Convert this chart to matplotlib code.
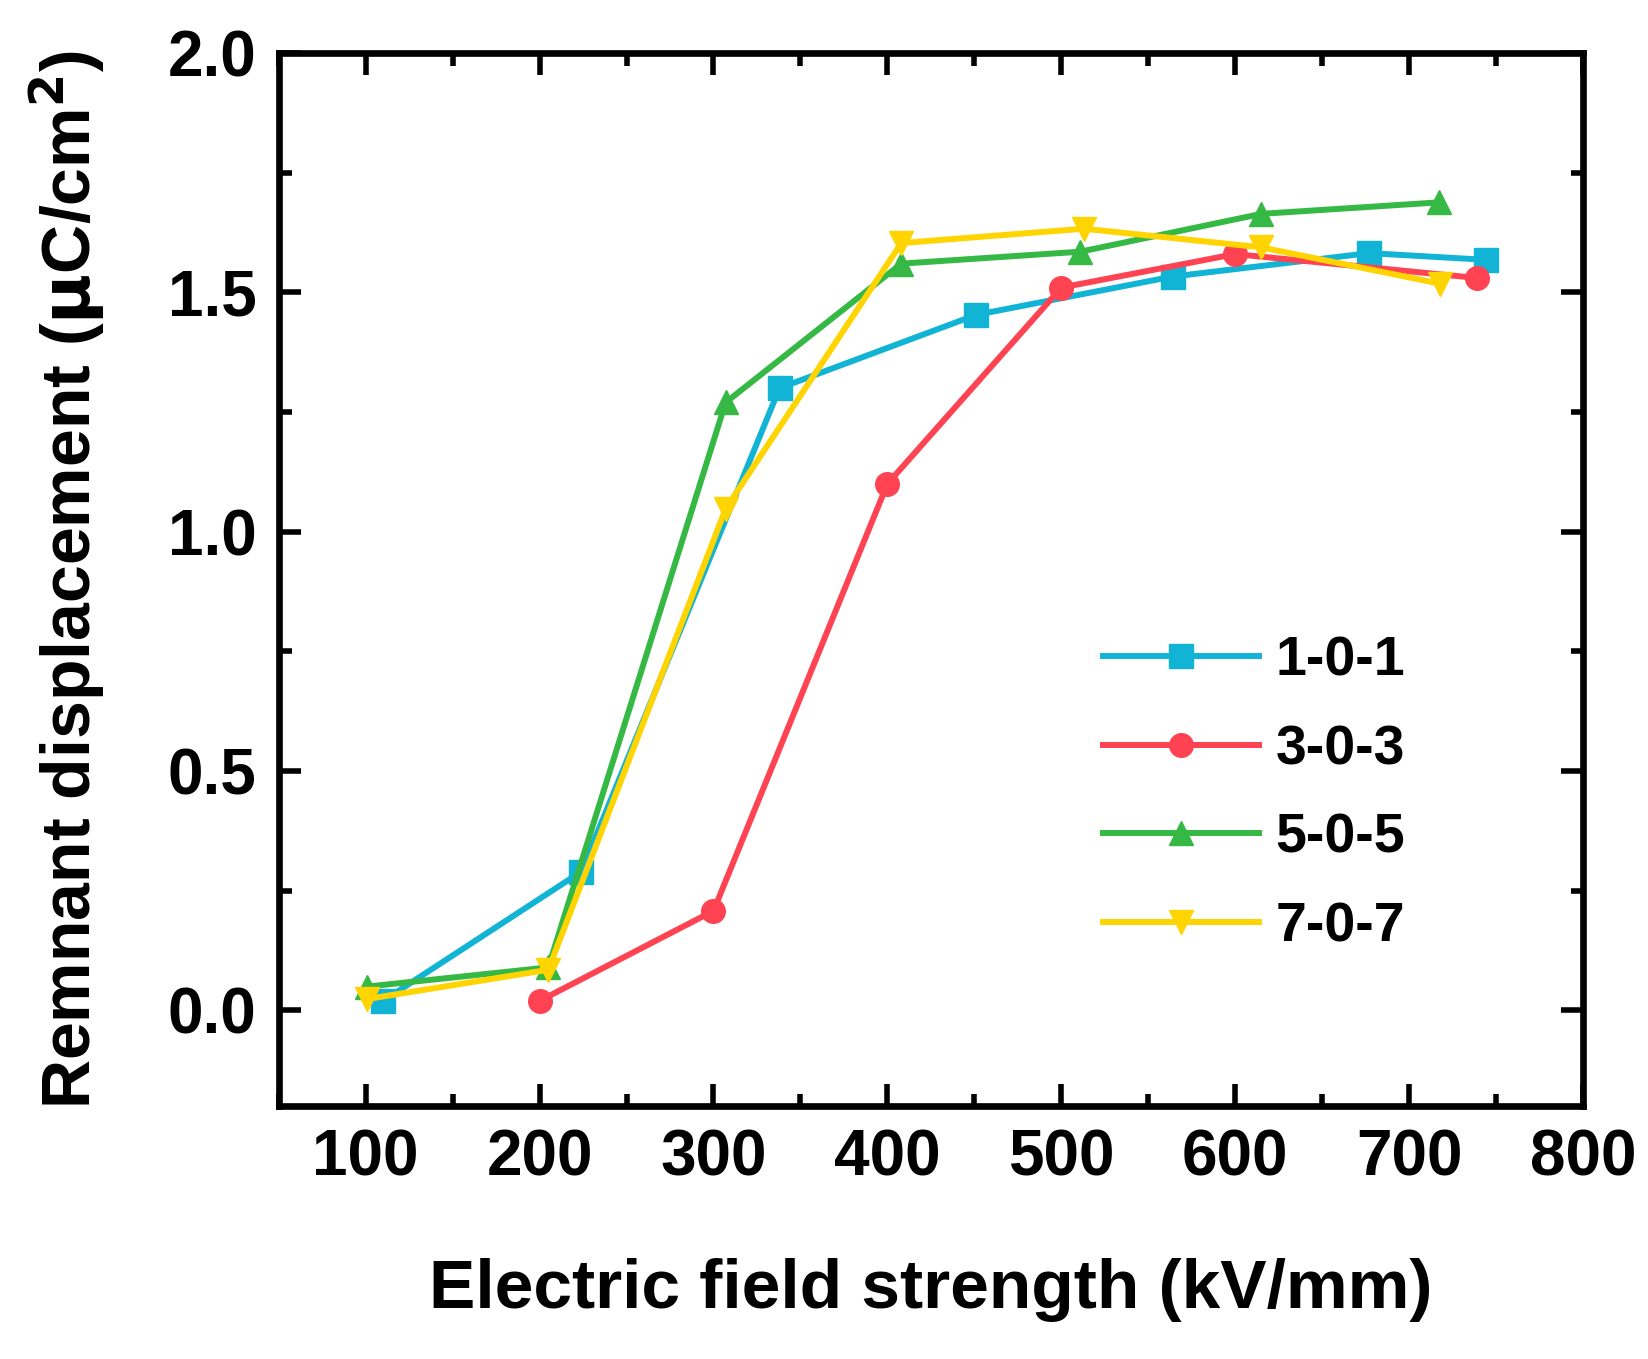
import matplotlib
matplotlib.use("Agg")
import matplotlib.pyplot as plt
from matplotlib.ticker import MultipleLocator

plt.rcParams['font.family'] = ['Liberation Sans', 'DejaVu Sans']
plt.rcParams['font.weight'] = 'bold'

# data
x_101 = [110, 224, 338, 451, 564, 677, 744]
y_101 = [0.02, 0.29, 1.30, 1.453, 1.533, 1.582, 1.568]
x_303 = [200, 300, 400, 500, 600, 739]
y_303 = [0.02, 0.208, 1.10, 1.51, 1.58, 1.53]
x_505 = [101, 205, 307, 408, 511, 615, 717]
y_505 = [0.05, 0.09, 1.27, 1.56, 1.585, 1.664, 1.688]
x_707 = [101, 205, 307, 408, 513, 615, 718]
y_707 = [0.024, 0.085, 1.048, 1.603, 1.633, 1.594, 1.518]

labels = ['1-0-1', '3-0-3', '5-0-5', '7-0-7']
colors = ['#12B4D6', '#FF4352', '#35B944', '#FFD400']
markers = ['s', 'o', '^', 'v']

fig = plt.figure(figsize=(16.49, 13.59), dpi=100)
ax = fig.add_axes([0.169, 0.186, 0.791, 0.775])

series = [(x_101, y_101), (x_303, y_303), (x_505, y_505), (x_707, y_707)]
for (x, y), lab, c, m in zip(series, labels, colors, markers):
    ax.plot(x, y, color=c, marker=m, markersize=17, linewidth=4.3,
            label=lab)

ax.set_xlim(50, 800)
ax.set_ylim(-0.2, 2.0)
ax.xaxis.set_major_locator(MultipleLocator(100))
ax.xaxis.set_minor_locator(MultipleLocator(50))
ax.yaxis.set_major_locator(MultipleLocator(0.5))
ax.yaxis.set_minor_locator(MultipleLocator(0.25))
ax.set_xticks([100, 200, 300, 400, 500, 600, 700, 800])
ax.set_yticks([0.0, 0.5, 1.0, 1.5, 2.0])
ax.set_yticklabels(['0.0', '0.5', '1.0', '1.5', '2.0'])

ax.tick_params(which='both', direction='in', top=True, right=True,
               width=4, labelsize=46, pad=16)
ax.tick_params(which='major', length=16)
ax.tick_params(which='minor', length=9)
for s in ax.spines.values():
    s.set_linewidth(4.8)

ax.set_xlabel('Electric field strength (kV/mm)', fontsize=50,
              fontweight='bold', labelpad=50)
ax.set_ylabel(r'Remnant displacement ($\mathbf{\mu}$C/cm$^\mathbf{2}$)',
              fontsize=49, fontweight='bold', labelpad=44)

leg = ax.legend(loc='center left', bbox_to_anchor=(0.594, 0.296),
                frameon=False, fontsize=40, handlelength=2.8,
                labelspacing=0.66, handletextpad=0.3)

fig.savefig('out.png', dpi=100)
